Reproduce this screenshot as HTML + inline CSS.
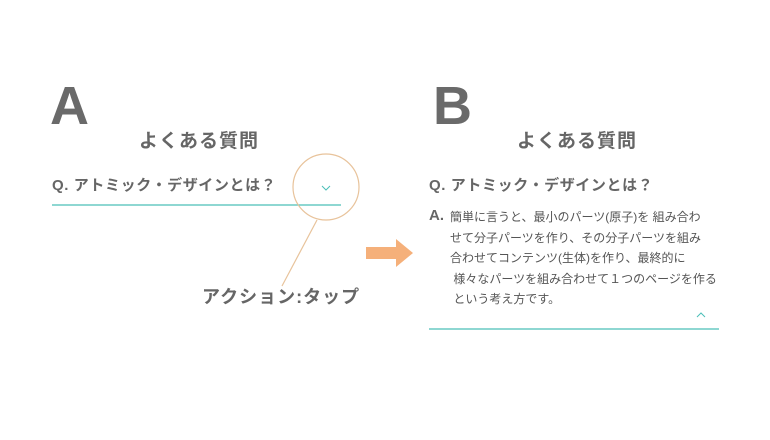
<!DOCTYPE html>
<html><head><meta charset="utf-8"><style>
body{margin:0;width:770px;height:440px;background:#fff;position:relative;overflow:hidden;font-family:"Liberation Sans","Noto Sans CJK JP",sans-serif;color:#666;}
.a{position:absolute;white-space:nowrap;font-weight:bold;}
</style></head><body>
<div class="a" style="left:50px;top:78px;font-size:54px;line-height:56px;color:#6a6a6a">A</div>
<div class="a" style="left:433px;top:78px;font-size:54px;line-height:56px;color:#6a6a6a">B</div>
<div class="a" style="left:139px;top:130px;font-size:19px;line-height:24px;letter-spacing:1px">よくある質問</div>
<div class="a" style="left:517px;top:130px;font-size:19px;line-height:24px;letter-spacing:1px">よくある質問</div>
<div class="a" style="left:52px;top:176px;font-size:15px;line-height:20px;letter-spacing:0.6px">Q. アトミック・デザインとは？</div>
<div class="a" style="left:429px;top:176px;font-size:15px;line-height:20px;letter-spacing:0.6px">Q. アトミック・デザインとは？</div>
<div class="a" style="left:429px;top:206px;font-size:15px;line-height:20px">A.</div>
<div class="a" style="left:450px;top:207px;font-size:12px;line-height:20.5px;font-weight:normal;color:#555">簡単に言うと、最小のパーツ(原子)を 組み合わ<br>せて分子パーツを作り、その分子パーツを組み<br>合わせてコンテンツ(生体)を作り、最終的に<br>&nbsp;様々なパーツを組み合わせて１つのページを作る<br>&nbsp;という考え方です。</div>
<div class="a" style="left:202px;top:285px;font-size:18px;line-height:24px;letter-spacing:1px">アクション:タップ</div>
<svg width="770" height="440" style="position:absolute;left:0;top:0">
<line x1="52" y1="205" x2="341" y2="205" stroke="#4bbfb8" stroke-width="1.3"/>
<line x1="429" y1="329" x2="719" y2="329" stroke="#4bbfb8" stroke-width="1.3"/>
<polyline points="322,186 326,190 330,186" fill="none" stroke="#4bbfb8" stroke-width="1"/>
<polyline points="697,317 701,313 705,317" fill="none" stroke="#4bbfb8" stroke-width="1"/>
<circle cx="326" cy="187" r="33" fill="none" stroke="#e8c39b" stroke-width="1.2"/>
<line x1="317" y1="220" x2="282" y2="286" stroke="#e8c39b" stroke-width="1.2"/>
<polygon points="366,247 396,247 396,239 413,253 396,267 396,259 366,259" fill="#f5b07a"/>
</svg>
</body></html>
